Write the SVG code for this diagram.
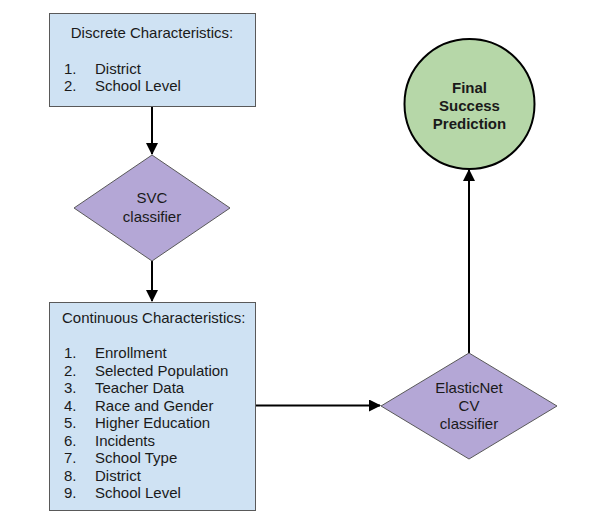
<svg xmlns="http://www.w3.org/2000/svg" width="614" height="529" viewBox="0 0 614 529">
<defs>
<marker id="ah" markerWidth="12" markerHeight="12" viewBox="0 0 12 12" refX="11" refY="6" orient="auto" markerUnits="userSpaceOnUse">
<path d="M0,0 L12,6 L0,12 Z" fill="#000"/>
</marker>
<style>
.box{fill:#cfe2f3;stroke:#595959;stroke-width:1}
.dia{fill:#b4a7d6;stroke:#595959;stroke-width:1}
.circ{fill:#b6d7a8;stroke:#000;stroke-width:2}
text{font-family:"Liberation Sans",Arial,sans-serif;font-size:15px;fill:#1a1a1a}
.c{text-anchor:middle}
.b{font-weight:bold}
.conn{stroke:#000;stroke-width:2;fill:none;marker-end:url(#ah)}
</style>
</defs>
<rect width="614" height="529" fill="#fff"/>
<g id="connectors">
<line class="conn" x1="152" y1="106" x2="152" y2="154"/>
<line class="conn" x1="152" y1="261" x2="152" y2="301"/>
<line class="conn" x1="255" y1="405.5" x2="380" y2="405.5"/>
<line class="conn" x1="469" y1="353" x2="469" y2="170"/>
</g>
<g id="discrete">
<rect class="box" x="49.5" y="13.5" width="206" height="93"/>
<text class="c" x="152" y="38">Discrete Characteristics:</text>
<text x="64" y="74">1.</text><text x="95" y="74">District</text>
<text x="64" y="91">2.</text><text x="95" y="91">School Level</text>
</g>
<g id="svc">
<polygon class="dia" points="152,155 230,208 152,261 74,208"/>
<text class="c" x="152" y="203">SVC</text>
<text class="c" x="152" y="222">classifier</text>
</g>
<g id="continuous">
<rect class="box" x="49.5" y="302.5" width="206" height="208"/>
<text x="62" y="323">Continuous Characteristics:</text>
<text x="64" y="358">1.</text><text x="95" y="358">Enrollment</text>
<text x="64" y="375.5">2.</text><text x="95" y="375.5">Selected Population</text>
<text x="64" y="393">3.</text><text x="95" y="393">Teacher Data</text>
<text x="64" y="410.5">4.</text><text x="95" y="410.5">Race and Gender</text>
<text x="64" y="428">5.</text><text x="95" y="428">Higher Education</text>
<text x="64" y="445.5">6.</text><text x="95" y="445.5">Incidents</text>
<text x="64" y="463">7.</text><text x="95" y="463">School Type</text>
<text x="64" y="480.5">8.</text><text x="95" y="480.5">District</text>
<text x="64" y="498">9.</text><text x="95" y="498">School Level</text>
</g>
<g id="elasticnet">
<polygon class="dia" points="469,353 557,406 469,459 381,406"/>
<text class="c" x="469" y="393">ElasticNet</text>
<text class="c" x="469" y="411">CV</text>
<text class="c" x="469" y="429">classifier</text>
</g>
<g id="final">
<circle class="circ" cx="469.5" cy="104" r="65"/>
<text class="c b" x="469.5" y="93">Final</text>
<text class="c b" x="469.5" y="111">Success</text>
<text class="c b" x="469.5" y="129">Prediction</text>
</g>
</svg>
